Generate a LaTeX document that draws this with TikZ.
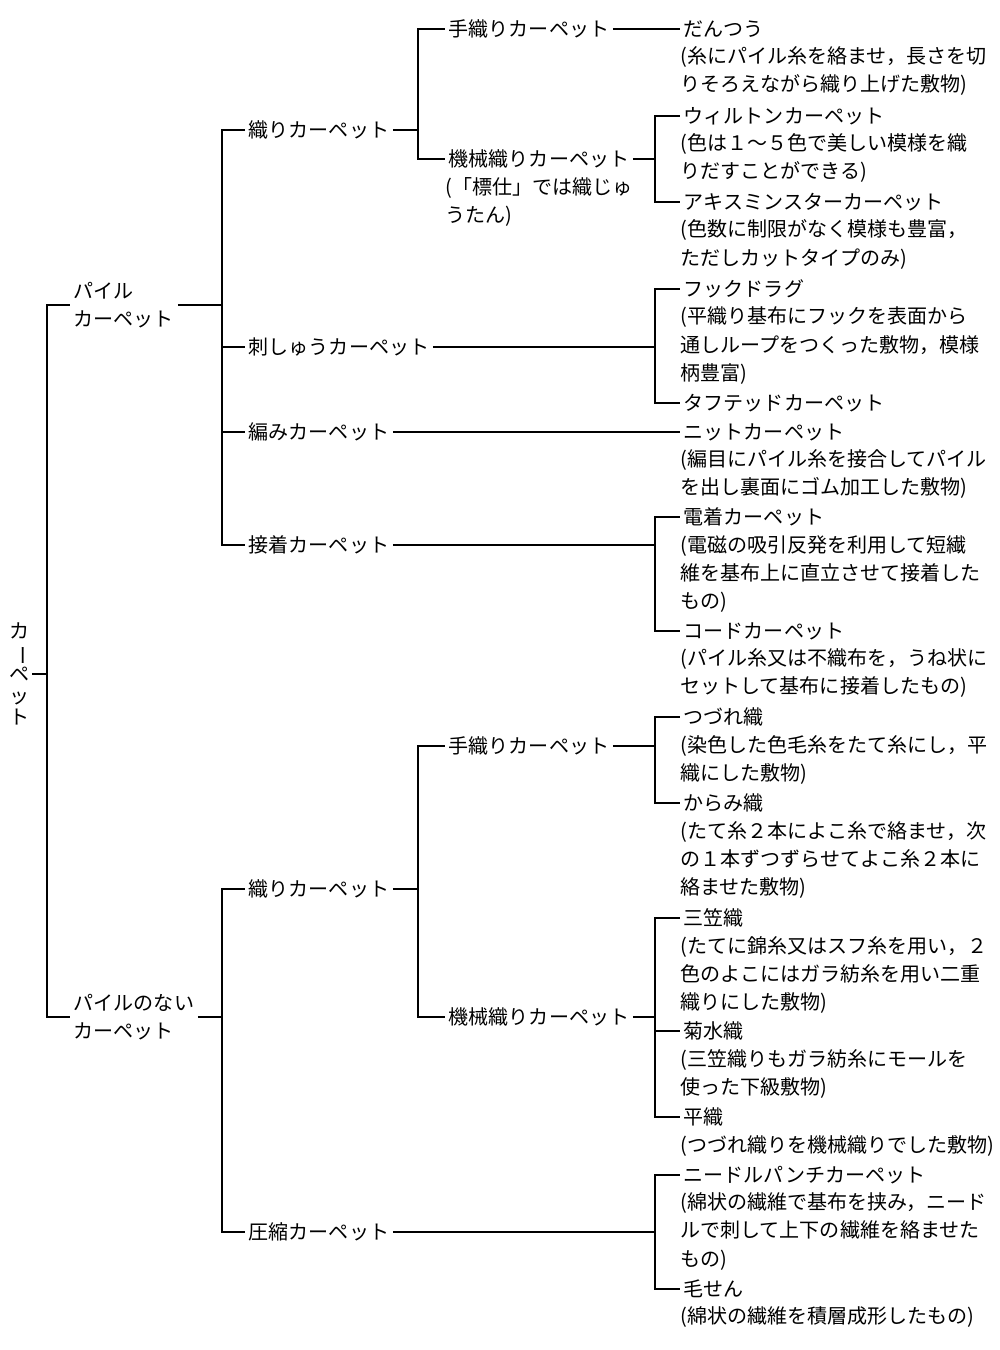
\documentclass[tikz,border=0pt]{standalone}
\usepackage{fontspec}
\newfontfamily\jp{Noto Sans CJK JP}
\usetikzlibrary{positioning}
\tikzset{
  lbl/.style={font=\jp\fontsize{11.4}{16.1}\selectfont, inner xsep=2pt, inner ysep=1pt, anchor=west, align=left},
  desc/.style={lbl, anchor=north west, inner sep=0pt, yshift=-0.13cm},
  wire/.style={black, line width=0.6pt}
}
\begin{document}
\begin{tikzpicture}[x=0.02cm, y=-0.02cm]
  \useasboundingbox (0,0) rectangle (1000,1350);
  % root
  \node[font=\jp\fontsize{11.4}{12.2}\selectfont, align=center, inner sep=1pt] (root) at (20,674)
    {カ\\\rotatebox[origin=c]{-90}{ー}\\ペ\\ッ\\ト};
  \coordinate (b0) at (47,674);
  \node[lbl] (pile) at (70,305) {パイル\\カーペット};
  \node[lbl] (nopile) at (70,1017) {パイルのない\\カーペット};
  % pile carpets
  \coordinate (b1) at (222,305);
  \node[lbl] (ori1) at (245,130) {織りカーペット};
  \node[lbl] (shishu) at (245,347) {刺しゅうカーペット};
  \node[lbl] (ami) at (245,432) {編みカーペット};
  \node[lbl] (setchaku) at (245,545) {接着カーペット};
  \coordinate (b2) at (418,130);
  \node[lbl] (tebata1) at (445,29) {手織りカーペット};
  \node[lbl] (kikai1) at (445,159) {機械織りカーペット};
  \node[desc] (kikai1-d) at (kikai1.south west) {(「標仕」では織じゅ\\うたん)};
  \node[lbl] (dantsu) at (680,29) {だんつう};
  \node[desc] (dantsu-d) at (dantsu.south west) {(糸にパイル糸を絡ませ，長さを切\\りそろえながら織り上げた敷物)};
  \coordinate (b6) at (655,159);
  \node[lbl] (wilton) at (680,116) {ウィルトンカーペット};
  \node[desc] (wilton-d) at (wilton.south west) {(色は１～５色で美しい模様を織\\りだすことができる)};
  \node[lbl] (axmin) at (680,202) {アキスミンスターカーペット};
  \node[desc] (axmin-d) at (axmin.south west) {(色数に制限がなく模様も豊富，\\ただしカットタイプのみ)};
  \coordinate (b3) at (655,347);
  \node[lbl] (hook) at (680,289) {フックドラグ};
  \node[desc] (hook-d) at (hook.south west) {(平織り基布にフックを表面から\\通しループをつくった敷物，模様\\柄豊富)};
  \node[lbl] (tufted) at (680,403) {タフテッドカーペット};
  \node[lbl] (nit) at (680,432) {ニットカーペット};
  \node[desc] (nit-d) at (nit.south west) {(編目にパイル糸を接合してパイル\\を出し裏面にゴム加工した敷物)};
  \coordinate (b4) at (655,545);
  \node[lbl] (dench) at (680,517) {電着カーペット};
  \node[desc] (dench-d) at (dench.south west) {(電磁の吸引反発を利用して短繊\\維を基布上に直立させて接着した\\もの)};
  \node[lbl] (cord) at (680,631) {コードカーペット};
  \node[desc] (cord-d) at (cord.south west) {(パイル糸又は不織布を，うね状に\\セットして基布に接着したもの)};
  % non-pile carpets
  \coordinate (b5) at (222,1017);
  \node[lbl] (ori2) at (245,889) {織りカーペット};
  \node[lbl] (asshuku) at (245,1232) {圧縮カーペット};
  \coordinate (b7) at (418,889);
  \node[lbl] (tebata2) at (445,746) {手織りカーペット};
  \node[lbl] (kikai2) at (445,1017) {機械織りカーペット};
  \coordinate (b9) at (655,746);
  \node[lbl] (tsuzure) at (680,717) {つづれ織};
  \node[desc] (tsuzure-d) at (tsuzure.south west) {(染色した色毛糸をたて糸にし，平\\織にした敷物)};
  \node[lbl] (karami) at (680,803) {からみ織};
  \node[desc] (karami-d) at (karami.south west) {(たて糸２本によこ糸で絡ませ，次\\の１本ずつずらせてよこ糸２本に\\絡ませた敷物)};
  \coordinate (b10) at (655,1017);
  \node[lbl] (mikasa) at (680,918) {三笠織};
  \node[desc] (mikasa-d) at (mikasa.south west) {(たてに錦糸又はスフ糸を用い，２\\色のよこにはガラ紡糸を用い二重\\織りにした敷物)};
  \node[lbl] (kikusui) at (680,1031) {菊水織};
  \node[desc] (kikusui-d) at (kikusui.south west) {(三笠織りもガラ紡糸にモールを\\使った下級敷物)};
  \node[lbl] (hiraori) at (680,1117) {平織};
  \node[desc] (hiraori-d) at (hiraori.south west) {(つづれ織りを機械織りでした敷物)};
  \coordinate (b8) at (655,1232);
  \node[lbl] (needle) at (680,1175) {ニードルパンチカーペット};
  \node[desc] (needle-d) at (needle.south west) {(綿状の繊維で基布を挟み，ニード\\ルで刺して上下の繊維を絡ませた\\もの)};
  \node[lbl] (mosen) at (680,1289) {毛せん};
  \node[desc] (mosen-d) at (mosen.south west) {(綿状の繊維を積層成形したもの)};
  % connectors
  \draw[wire] (root.east) -- (b0) (b0) |- (pile.west) (b0) |- (nopile.west);
  \draw[wire] (pile.east) -- (b1);
  \foreach \n in {ori1,shishu,ami,setchaku} \draw[wire] (b1) |- (\n.west);
  \draw[wire] (ori1.east) -- (b2) (b2) |- (tebata1.west) (b2) |- (kikai1.west);
  \draw[wire] (tebata1.east) -- (dantsu.west);
  \draw[wire] (kikai1.east) -- (b6) (b6) |- (wilton.west) (b6) |- (axmin.west);
  \draw[wire] (shishu.east) -- (b3) (b3) |- (hook.west) (b3) |- (tufted.west);
  \draw[wire] (ami.east) -- (nit.west);
  \draw[wire] (setchaku.east) -- (b4) (b4) |- (dench.west) (b4) |- (cord.west);
  \draw[wire] (nopile.east) -- (b5) (b5) |- (ori2.west) (b5) |- (asshuku.west);
  \draw[wire] (ori2.east) -- (b7) (b7) |- (tebata2.west) (b7) |- (kikai2.west);
  \draw[wire] (tebata2.east) -- (b9) (b9) |- (tsuzure.west) (b9) |- (karami.west);
  \draw[wire] (kikai2.east) -- (b10);
  \foreach \n in {mikasa,kikusui,hiraori} \draw[wire] (b10) |- (\n.west);
  \draw[wire] (asshuku.east) -- (b8) (b8) |- (needle.west) (b8) |- (mosen.west);
\end{tikzpicture}
\end{document}
